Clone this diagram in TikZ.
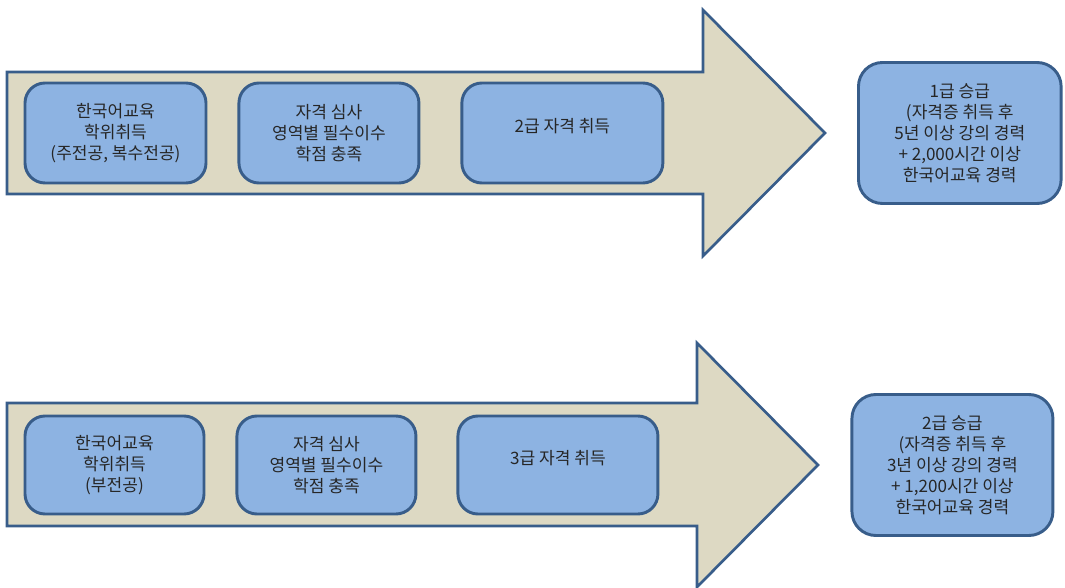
\documentclass[tikz,border=0pt]{standalone}
\usepackage{fontspec}
\setmainfont{Noto Sans CJK KR}
\definecolor{tan}{RGB}{221,217,195}
\definecolor{bord}{RGB}{56,93,138}
\definecolor{bfill}{RGB}{141,179,226}
\definecolor{txt}{RGB}{38,38,38}
\usetikzlibrary{positioning}

\begin{document}
\begin{tikzpicture}[x=0.75pt, y=-0.75pt, node distance=22.5pt, inner sep=0pt,
  bigarrow/.style={draw=bord, fill=tan, line width=2pt, line join=miter},
  stage/.style={draw=bord, fill=bfill, line width=2.2pt, rounded corners=15pt, minimum height=75pt, align=center, text=txt, font=\fontsize{12.8pt}{15.75pt}\selectfont},
  goal/.style={stage, rounded corners=18pt, minimum width=152pt, minimum height=105.75pt}]
  \useasboundingbox (0,0) rectangle (1065,588);
  % upper track
  \draw[bigarrow] (7,72) -- (703,72) -- (703,10) -- (825,133) -- (703,256) -- (703,194) -- (7,194) -- cycle;
  \node[stage, minimum width=135.75pt] (A_1) at (115.5,133) {한국어교육\\학위취득\\(주전공, 복수전공)};
  \node[stage, minimum width=135pt]    (A_2) [right=of A_1] {자격 심사\\영역별 필수이수\\학점 충족};
  \node[stage, minimum width=150.75pt] (A_3) [right=30pt of A_2] {2급 자격 취득\\[-4pt]};
  \node[goal] (G_1) [right=144.5pt of A_3] {1급 승급\\(자격증 취득 후\\5년 이상 강의 경력\\+ 2,000시간 이상\\한국어교육 경력};
  % lower track
  \draw[bigarrow] (7,403) -- (697,403) -- (697,343) -- (818,465) -- (697,587) -- (697,526) -- (7,526) -- cycle;
  \node[stage, minimum width=134.25pt, minimum height=73.5pt] (B_1) at (114.5,465) {한국어교육\\학위취득\\(부전공)};
  \node[stage, minimum width=134.25pt, minimum height=73.5pt] (B_2) [right=of B_1] {자격 심사\\영역별 필수이수\\학점 충족};
  \node[stage, minimum width=150pt, minimum height=73.5pt]    (B_3) [right=29.3pt of B_2] {3급 자격 취득\\[-4pt]};
  \node[goal, minimum width=150.75pt] (G_2) [right=143.3pt of B_3] {2급 승급\\(자격증 취득 후\\3년 이상 강의 경력\\+ 1,200시간 이상\\한국어교육 경력};
\end{tikzpicture}
\end{document}
